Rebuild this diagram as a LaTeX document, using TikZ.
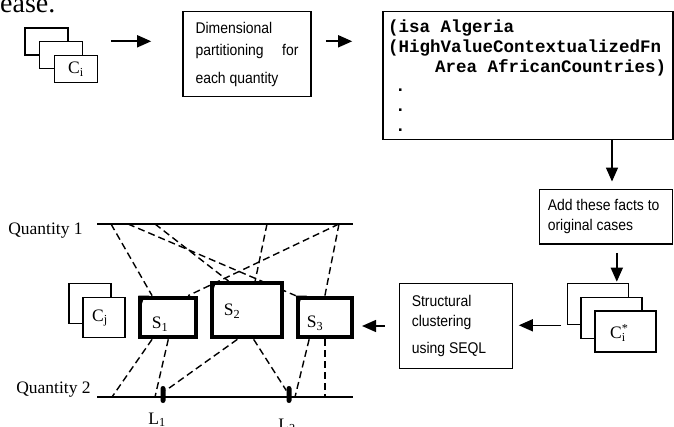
\documentclass[tikz,border=0pt]{standalone}
\usepackage{fontspec}
\setmainfont{Liberation Serif}
\setsansfont{Liberation Sans}
\setmonofont{Liberation Mono}
\newfontfamily\boxfont[FakeStretch=0.9]{Liberation Sans}
\usetikzlibrary{arrows.meta,calc,backgrounds}

\begin{document}
\begin{tikzpicture}[x=1pt, y=-1pt,
  card/.style={draw, line width=1.6pt, fill=white, inner sep=0pt},
  sbox/.style={draw, line width=4pt, fill=white, inner sep=0pt},
  proc/.style={card, align=flush left, font=\boxfont\fontsize{15.5pt}{21pt}\selectfont},
  lbl/.style={inner sep=0pt, font=\fontsize{17.5pt}{20pt}\selectfont},
  arr/.style={-{Triangle[length=14pt,width=12pt]}, line width=1.6pt},
  dline/.style={line width=1.4pt, dash pattern=on 7pt off 4pt},
  qline/.style={line width=1.8pt}]
\useasboundingbox (0,0) rectangle (674,427);
% Page text above the figure
\node[anchor=base west, inner sep=0pt, font=\fontsize{28pt}{28pt}\selectfont] (pagetext) at (0,13) {ease.};
% Input cases
\foreach \i/\x/\y in {1/46.5/41.3, 2/61/55}
    \node[card, minimum width=43pt, minimum height=27pt] (ci\i) at (\x,\y) {};
\node[card, lbl, minimum width=43pt, minimum height=27pt] (ci3) at (76,69) {C\textsubscript{i}};
% Top row boxes
\node[proc, minimum width=128pt, minimum height=85pt, text width=103pt, font=\boxfont\fontsize{15.5pt}{22pt}\selectfont] (dim) at (247,54)
    {Dimensional\\partitioning\hskip 0pt plus 1filll for\\[6pt]each quantity};
\node[card, align=flush left, minimum width=290pt, minimum height=128pt, text width=280pt, inner xsep=5pt,
    font=\ttfamily\bfseries\fontsize{17.5pt}{19.8pt}\selectfont] (code) at (528,75.7)
    {(isa Algeria\\(HighValueContextualizedFn\\\hspace*{47pt}Area AfricanCountries)\\\hspace*{7pt}.\\\hspace*{7pt}.\\\hspace*{7pt}.};
\node[proc, minimum width=133pt, minimum height=54.7pt, text width=116pt, font=\boxfont\fontsize{15.5pt}{20pt}\selectfont] (add) at (605.8,216.7)
    {Add these facts to\\original cases};
% Extended cases
\foreach \i/\x/\y in {1/598/304, 2/611.7/318, 3/625.5/331.7}
    \node[card, minimum width=61pt, minimum height=41pt] (cis\i) at (\x,\y) {};
\node[lbl] (cislbl) at (618,333) {C\rlap{\textsuperscript{*}}\textsubscript{i}};
\node[proc, minimum width=113pt, minimum height=84.7pt, text width=88pt, font=\boxfont\fontsize{15.5pt}{20pt}\selectfont] (struct) at (455.8,326)
    {Structural\\clustering\\[7pt]using SEQL};
% Draw arrows
\draw[arr, shorten <=42pt, shorten >=31pt] (ci1.east) -- (dim.west |- ci1.east);
\draw[arr, shorten <=14pt, shorten >=30pt] (dim.east |- ci1.east) -- (code.west |- ci1.east);
\coordinate (a3) at ([xshift=84pt]code.south);
\draw[arr, shorten >=7pt] (a3) -- (a3 |- add.north);
\coordinate (a4) at ([xshift=11pt]add.south);
\draw[arr, shorten <=8pt, shorten >=1pt] (a4) -- (a4 |- cis1.north);
\draw[arr, shorten <=5.5pt, shorten >=5.7pt] (cis1.south west) -- (struct.east |- cis1.south west);
% Quantity axes
\coordinate (q1w) at (97,224); \coordinate (q1e) at (353,224);
\coordinate (q2w) at (97,397); \coordinate (q2e) at (353,397);
\draw[qline] (q1w) -- (q1e);
\draw[qline] (q2w) -- (q2e);
\node[lbl, anchor=base] (q1lbl) at (45.5,235) {Quantity 1};
\node[lbl, anchor=base] (q2lbl) at (53.5,393) {Quantity 2};
\foreach \n/\x in {a/111, b/128, c/155, d/267, e/339}
    \coordinate (t\n) at (\x,224);
\foreach \n/\x in {a/112, b/155, c/295}
    \coordinate (b\n) at (\x,397);
% Clusters
\foreach \i/\x/\y in {1/89.7/303.5, 2/103.8/317.5}
    \node[card, minimum width=42pt, minimum height=40pt] (cj\i) at (\x,\y) {};
\node[lbl] (cjlbl) at (100,318) {C\textsubscript{j}};
\node[sbox, minimum width=56pt, minimum height=39.6pt] (s1) at (168.3,317.5) {};
\node[sbox, minimum width=70pt, minimum height=54.3pt] (s2) at (247,310.2) {};
\node[sbox, minimum width=54.3pt, minimum height=39.6pt] (s3) at (324.9,317.5) {};
\foreach \s in {s1,s2,s3}
    \fill (\s.north west) -- ++(11,0) -- ++(-6,4) -- ++(-3,9) -- cycle;
\node[lbl] (s1lbl) at (160,324) {S\textsubscript{1}};
\node[lbl] (s2lbl) at (232,311) {S\textsubscript{2}};
\node[lbl] (s3lbl) at (315,323) {S\textsubscript{3}};
\draw[arr, shorten <=14pt, shorten >=8pt] (struct.west) -- (s3.east |- struct.west);
% Landmarks
\foreach \i/\x in {1/163, 2/289}
    \node[fill, rounded corners=2.5pt, minimum width=5pt, minimum height=17pt, inner sep=0pt] (l\i) at (\x,394.5) {};
\node[lbl, anchor=base] (l1lbl) at (157,424) {L\textsubscript{1}};
\node[lbl, anchor=base] (l2lbl) at (287,430) {L\textsubscript{2}};
% Draw dashed links
\begin{scope}[on background layer]
\draw[dline] (ta) -- ($(s1.north west)!0.23!(s1.north east)$);
\draw[dline] (tb) -- (s3.north west);
\draw[dline] (tc) -- ($(s2.north west)!0.25!(s2.north east)$);
\draw[dline] (td) -- ($(s2.north west)!0.61!(s2.north east)$);
\draw[dline] (te) -- ($(s1.north west)!0.83!(s1.north east)$);
\draw[dline] (te) -- (s3.north);
\draw[dline] ($(s1.south west)!0.23!(s1.south east)$) -- (ba);
\draw[dline] (s1.south) -- (bb);
\draw[dline] ($(s2.south west)!0.37!(s2.south east)$) -- ([yshift=4pt]l1.east);
\draw[dline] ($(s2.south west)!0.59!(s2.south east)$) -- ([yshift=4pt]l2.west);
\draw[dline] ($(s3.south west)!0.23!(s3.south east)$) -- (bc);
\draw[dline] (s3.south) -- (s3.south |- q2w);
\end{scope}
\end{tikzpicture}
\end{document}
